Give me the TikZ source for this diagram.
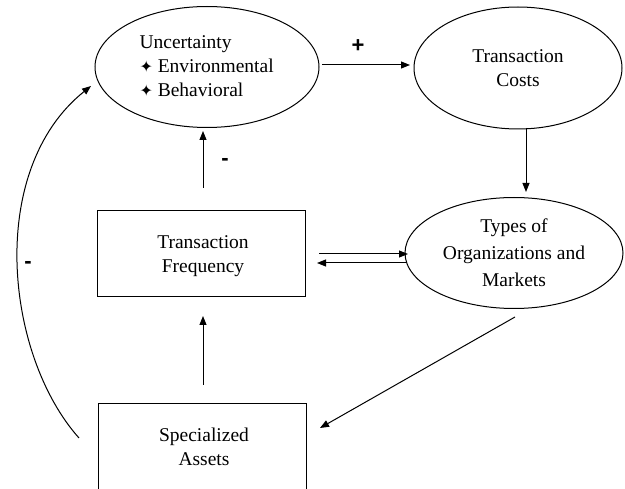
\documentclass[tikz,border=0pt]{standalone}
\usepackage{fontspec}
\setmainfont{Liberation Serif}
\newfontfamily\symfont{DejaVu Sans}
\newfontfamily\labfont{Liberation Sans}
\usetikzlibrary{shapes.geometric,arrows.meta}
\begin{document}
\begin{tikzpicture}[x=1pt,y=1pt,
  every node/.style={font=\fontsize{19.5}{24}\selectfont},
  oval/.style={draw, ellipse, line width=1pt, inner sep=0pt},
  boxnode/.style={draw, rectangle, line width=1pt, inner sep=0pt},
  arr/.style={line width=1pt, -{Triangle[length=9pt,width=7pt]}},
  sign/.style={font=\labfont\bfseries\fontsize{22}{24}\selectfont}]
\useasboundingbox (0,0) rectangle (625,-489);
\begin{scope}
\clip (0,0) rectangle (625,-489);
% nodes
\node[oval, minimum width=224, minimum height=121] (unc) at (207,-67) {};
\node[align=left, anchor=west] (unctxt) at (136,-66) {Uncertainty\\{\symfont\fontsize{16}{16}\selectfont ✦} Environmental\\{\symfont\fontsize{16}{16}\selectfont ✦} Behavioral};
\node[oval, minimum width=208, minimum height=122, align=center] (tc) at (518,-68) {Transaction\\Costs};
\node[oval, minimum width=218, minimum height=111, align=center,
      font=\fontsize{19.5}{27}\selectfont] (tom) at (514,-253) {Types of\\Organizations and\\Markets};
\node[boxnode, minimum width=208, minimum height=86] (tf) at (201,-254) {};
\node[align=center] (tftxt) at (203,-256) {Transaction\\Frequency};
\node[boxnode, minimum width=208, minimum height=90] (sa) at (202,-449) {};
\node[align=center] (satxt) at (204,-447) {Specialized\\Assets};
% connector end points
\coordinate (a1s) at (322,-65);
\coordinate (a1e) at (410,-65);
\coordinate (a2s) at (526,-128);
\coordinate (a2e) at (526,-192);
\coordinate (a3s) at (203,-188);
\coordinate (a3e) at (203,-131);
\coordinate (a4s) at (319,-254);
\coordinate (a4e) at (408,-254);
\coordinate (a5s) at (407,-263);
\coordinate (a5e) at (317,-263);
\coordinate (a6s) at (203,-385);
\coordinate (a6e) at (203,-316);
\coordinate (a7s) at (515,-317);
\coordinate (a7e) at (320,-428);
\coordinate (a8s) at (79,-438);
\coordinate (a8e) at (91,-86);
% connectors
\draw[arr] (a1s) -- (a1e);
\draw[arr] (a2s) -- (a2e);
\draw[arr] (a3s) -- (a3e);
\draw[arr] (a4s) -- (a4e);
\draw[arr] (a5s) -- (a5e);
\draw[arr] (a6s) -- (a6e);
\draw[arr] (a7s) -- (a7e);
\draw[arr] (a8s) .. controls (5,-355) and (-14,-170) .. (a8e);
% signs
\node[sign] (plus) at (358,-46) {+};
\node[sign] (m1) at (225,-162) {-};
\node[sign] (m2) at (28,-265) {-};
\end{scope}
\end{tikzpicture}
\end{document}
